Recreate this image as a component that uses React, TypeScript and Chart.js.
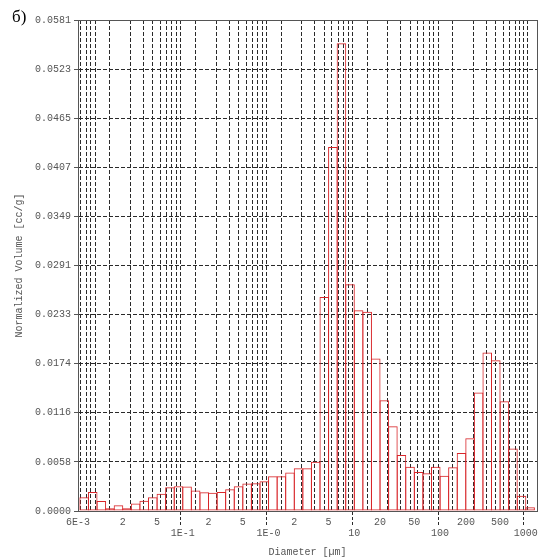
import React, { useEffect, useRef } from 'react';
import { Chart, registerables } from 'chart.js';

Chart.register(...registerables);

// Lower edges of the size bins (µm), 10 bins per decade
const binLowerEdges = [
  0.00631, 0.007943, 0.01, 0.01259, 0.01585, 0.01995, 0.02512, 0.03162, 0.03981, 0.05012,
  0.0631, 0.07943, 0.1, 0.1259, 0.1585, 0.1995, 0.2512, 0.3162, 0.3981, 0.5012,
  0.631, 0.7943, 1.0, 1.259, 1.585, 1.995, 2.512, 3.162, 3.981, 5.012,
  6.31, 7.943, 10.0, 12.59, 15.85, 19.95, 25.12, 31.62, 39.81, 50.12,
  63.1, 79.43, 100.0, 125.9, 158.5, 199.5, 251.2, 316.2, 398.1, 501.2,
  631.0, 794.3, 1000.0,
];
const lastBinUpperEdge = 1259;

// Normalized volume per bin (cc/g)
const volumes = [
  0.00162, 0.00225, 0.00118, 0.00033, 0.00069, 0.00033, 0.00089, 0.0012, 0.00162, 0.00205,
  0.00282, 0.00292, 0.0029, 0.00244, 0.00223, 0.00215, 0.00225, 0.00258, 0.00294, 0.00325,
  0.00329, 0.00353, 0.00412, 0.00412, 0.00457, 0.00505, 0.00505, 0.00584, 0.02535, 0.0431,
  0.0554, 0.02685, 0.02378, 0.02358, 0.01806, 0.0131, 0.01005, 0.00662, 0.00524, 0.00461,
  0.00446, 0.00524, 0.00418, 0.00517, 0.00686, 0.0086, 0.01404, 0.01877, 0.01786, 0.013,
  0.00741, 0.00181, 0.00044,
];

const yMax = 0.05814;
const yTickLabels = [
  '0.0000', '0.0058', '0.0116', '0.0174', '0.0233', '0.0291',
  '0.0349', '0.0407', '0.0465', '0.0523', '0.0581',
];

const xMin = 0.006;
const xMax = 1350;
const gridDecades = [0.001, 0.01, 0.1, 1, 10, 100, 1000];
const gridMultipliers = [1, 2, 3, 4, 5, 6, 7, 8, 9];

// row 0: first label line, row 1: second (decade) line
const xTickLabels = [
  { value: 0.006, text: '6E-3', row: 0 },
  { value: 0.02, text: '2', row: 0 },
  { value: 0.05, text: '5', row: 0 },
  { value: 0.1, text: '1E-1', row: 1 },
  { value: 0.2, text: '2', row: 0 },
  { value: 0.5, text: '5', row: 0 },
  { value: 1, text: '1E-0', row: 1 },
  { value: 2, text: '2', row: 0 },
  { value: 5, text: '5', row: 0 },
  { value: 10, text: '10', row: 1 },
  { value: 20, text: '20', row: 0 },
  { value: 50, text: '50', row: 0 },
  { value: 100, text: '100', row: 1 },
  { value: 200, text: '200', row: 0 },
  { value: 500, text: '500', row: 0 },
  { value: 1000, text: '1000', row: 1 },
];

const xTitle = 'Diameter [µm]';
const yTitle = 'Normalized Volume [cc/g]';
const panelLabel = 'б)';

const MONO = "'Liberation Mono', 'DejaVu Sans Mono', monospace";
const GRID = '#2a2a2a';
const FRAME = '#555';
const TEXT = '#555';
const BAR = '#d8262a';

function findLabel(v: number) {
  return xTickLabels.find((t) => Math.abs(Math.log10(t.value) - Math.log10(v)) < 1e-6);
}

function gridValues(): number[] {
  const out: number[] = [];
  for (const d of gridDecades) {
    for (const m of gridMultipliers) {
      const v = Number((m * d).toPrecision(6));
      if (v >= xMin * 0.9999 && v <= xMax) out.push(v);
    }
  }
  return out;
}

const framePlugin = {
  id: 'frame',
  afterDraw(chart: any) {
    const { ctx, chartArea } = chart;
    ctx.save();
    ctx.strokeStyle = FRAME;
    ctx.lineWidth = 1;
    ctx.setLineDash([]);
    ctx.strokeRect(
      Math.round(chartArea.left) + 0.5,
      Math.round(chartArea.top) + 0.5,
      Math.round(chartArea.right) - Math.round(chartArea.left),
      Math.round(chartArea.bottom) - Math.round(chartArea.top)
    );
    ctx.restore();
  },
};

export default function App() {
  const canvasRef = useRef<HTMLCanvasElement>(null);

  useEffect(() => {
    document.body.style.margin = '0';
    const canvas = canvasRef.current;
    if (!canvas) return;
    const edges = [...binLowerEdges, lastBinUpperEdge];
    const data = volumes.map((v, i) => ({ x: Math.sqrt(edges[i] * edges[i + 1]), y: v }));
    const ticks = gridValues();

    const chart = new Chart(canvas, {
      type: 'bar',
      data: {
        datasets: [
          {
            data,
            xAxisID: 'xb',
            yAxisID: 'y',
            backgroundColor: 'rgba(0,0,0,0)',
            borderColor: BAR,
            borderWidth: 1,
            borderSkipped: false,
            inflateAmount: 0,
            // slightly wider than the bin so neighbouring outlines share one line
            barPercentage: 1.117,
            categoryPercentage: 1,
          } as any,
        ],
      },
      options: {
        animation: false,
        responsive: false,
        events: [],
        layout: { padding: { left: 0, top: 20, right: 14, bottom: 0 } },
        plugins: {
          legend: { display: false },
          tooltip: { enabled: false },
        },
        scales: {
          xb: {
            type: 'logarithmic',
            display: false,
            min: xMin,
            max: xMax,
            afterBuildTicks: (s: any) => {
              s.ticks = [{ value: xMin }, { value: xMax }];
            },
          },
          x: {
            type: 'logarithmic',
            position: 'bottom',
            min: xMin,
            max: xMax,
            afterBuildTicks: (s: any) => {
              s.ticks = ticks.map((v) => ({ value: v }));
            },
            afterFit: (s: any) => {
              s.height = 47;
            },
            ticks: {
              autoSkip: false,
              maxRotation: 0,
              minRotation: 0,
              padding: -10,
              color: TEXT,
              font: { family: MONO, size: 10, lineHeight: 1.1 },
              callback: (value: any) => {
                const t = findLabel(Number(value));
                if (!t) return '';
                return t.row === 1 ? ['', t.text] : t.text;
              },
            },
            grid: {
              color: GRID,
              lineWidth: 1,
              tickLength: 16,
              tickBorderDash: [3, 2],
              tickColor: (ctx: any) => {
                const t = ctx.tick ? findLabel(ctx.tick.value) : undefined;
                return t && t.row === 1 ? GRID : 'rgba(0,0,0,0)';
              },
            },
            border: { display: true, color: FRAME, dash: [4, 2] },
            title: {
              display: true,
              text: xTitle,
              color: TEXT,
              font: { family: MONO, size: 10, lineHeight: 1.1 },
              padding: { top: 0, bottom: 0 },
            },
          },
          y: {
            type: 'linear',
            min: 0,
            max: yMax,
            afterBuildTicks: (s: any) => {
              s.ticks = yTickLabels.map((_, i) => ({ value: (yMax * i) / (yTickLabels.length - 1) }));
            },
            afterFit: (s: any) => {
              s.width = 78;
            },
            ticks: {
              padding: 3,
              color: TEXT,
              font: { family: MONO, size: 10, lineHeight: 1.1 },
              callback: (_v: any, i: number) => yTickLabels[i],
            },
            grid: {
              color: GRID,
              lineWidth: 1,
              tickLength: 4,
              tickColor: FRAME,
              tickBorderDash: [],
            },
            border: { display: true, color: FRAME, dash: [4, 2] },
            title: {
              display: true,
              text: yTitle,
              color: TEXT,
              font: { family: MONO, size: 10, lineHeight: 1.1 },
              padding: { top: 14, bottom: 0 },
            },
          },
        },
      } as any,
      plugins: [framePlugin],
    });
    return () => chart.destroy();
  }, []);

  return (
    <div style={{ position: 'relative', width: 551, height: 558, background: '#fff' }}>
      <canvas ref={canvasRef} width={551} height={558} style={{ display: 'block' }} />
      <div
        style={{
          position: 'absolute',
          left: 12,
          top: 8,
          fontFamily: "'Liberation Serif', 'DejaVu Serif', serif",
          fontSize: 17,
          lineHeight: '17px',
          color: '#000',
        }}
      >
        {panelLabel}
      </div>
    </div>
  );
}
